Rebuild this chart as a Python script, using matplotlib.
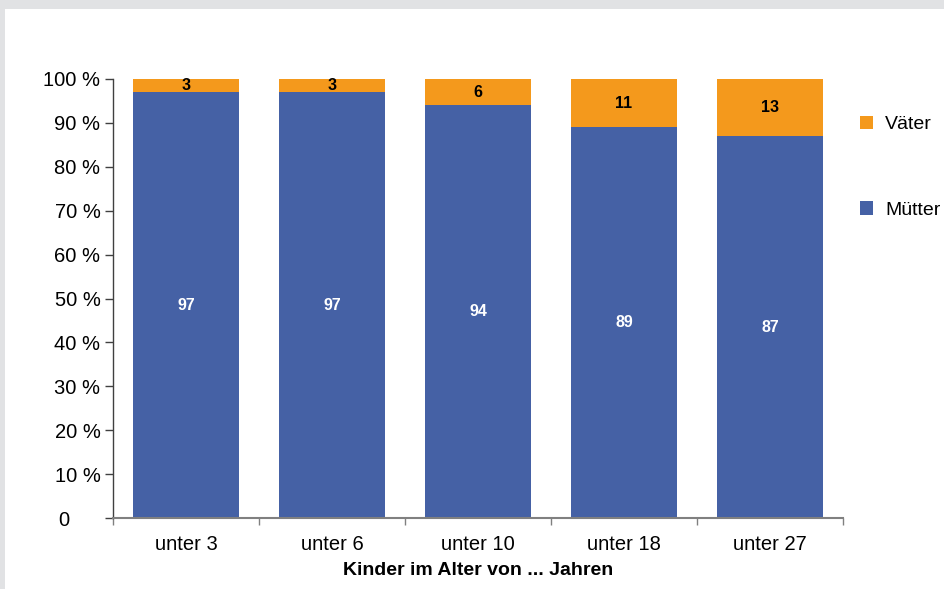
import matplotlib.pyplot as plt
import matplotlib.patches as mpatches
import matplotlib.transforms as mtransforms
import numpy as np

plt.rcParams['font.family'] = ['Liberation Sans', 'DejaVu Sans']

categories = ["unter 3", "unter 6", "unter 10", "unter 18", "unter 27"]
muetter = [97, 97, 94, 89, 87]
vaeter = [3, 3, 6, 11, 13]
yticks = [0, 10, 20, 30, 40, 50, 60, 70, 80, 90, 100]
ytick_labels = ["0"] + [f"{v} %" for v in yticks[1:]]

blue = "#4561A5"
orange = "#F4991C"

fig = plt.figure(figsize=(9.45, 5.89), dpi=100)
fig.patch.set_facecolor("white")
# grauer Rahmen oben und links
fig.patches.append(mpatches.Rectangle((0, 1 - 9 / 589), 1, 9 / 589, transform=fig.transFigure,
                                      facecolor="#E1E2E4", edgecolor="none", zorder=0))
fig.patches.append(mpatches.Rectangle((0, 0), 5 / 945, 1, transform=fig.transFigure,
                                      facecolor="#E1E2E4", edgecolor="none", zorder=0))

ax = fig.add_axes([113 / 945, 1 - 518 / 589, (843 - 113) / 945, (518 - 79) / 589])

x = np.arange(len(categories))
b1 = ax.bar(x, muetter, width=0.72, color=blue, label="Mütter")
b2 = ax.bar(x, vaeter, width=0.72, bottom=muetter, color=orange, label="Väter")

for i in range(len(x)):
    ax.text(x[i], muetter[i] / 2, str(muetter[i]), ha="center", va="center",
            color="white", fontsize=11.5, fontweight="bold")
    ax.text(x[i], muetter[i] + vaeter[i] / 2, str(vaeter[i]), ha="center", va="center",
            color="black", fontsize=11.5, fontweight="bold")

ax.set_xlim(-0.5, len(categories) - 0.5)
ax.set_ylim(0, 100)
ax.set_yticks(yticks)
ax.set_yticklabels(ytick_labels, fontsize=14.5)
ax.set_xticks(x)
ax.set_xticklabels(categories, fontsize=14.5)
ax.set_xticks(np.arange(len(categories) + 1) - 0.5, minor=True)
ax.tick_params(axis="x", which="major", length=0, pad=12)
ax.tick_params(axis="x", which="minor", length=5, color="#808080", width=1)
ax.tick_params(axis="y", length=6, color="#404040", width=1, pad=3)

# die "0" steht wie ohne Prozentzeichen weiter links
lab0 = ax.get_yticklabels()[0]
lab0.set_transform(lab0.get_transform() + mtransforms.ScaledTranslation(-31 / 100, 0, fig.dpi_scale_trans))

for s in ["top", "right"]:
    ax.spines[s].set_visible(False)
ax.spines["bottom"].set_color("#808080")
ax.spines["bottom"].set_linewidth(1.5)
ax.spines["left"].set_color("#404040")
ax.spines["left"].set_linewidth(1)

ax.set_xlabel("Kinder im Alter von ... Jahren", fontsize=14, fontweight="bold", labelpad=6)

ax.legend(handles=[b2, b1], loc="upper left", bbox_to_anchor=(850 / 945, 1 - 106 / 589),
          bbox_transform=fig.transFigure, frameon=False, fontsize=14,
          handlelength=0.7, handleheight=0.7, handletextpad=0.6, labelspacing=3.5,
          borderpad=0)

fig.savefig("out.png", dpi=100)
